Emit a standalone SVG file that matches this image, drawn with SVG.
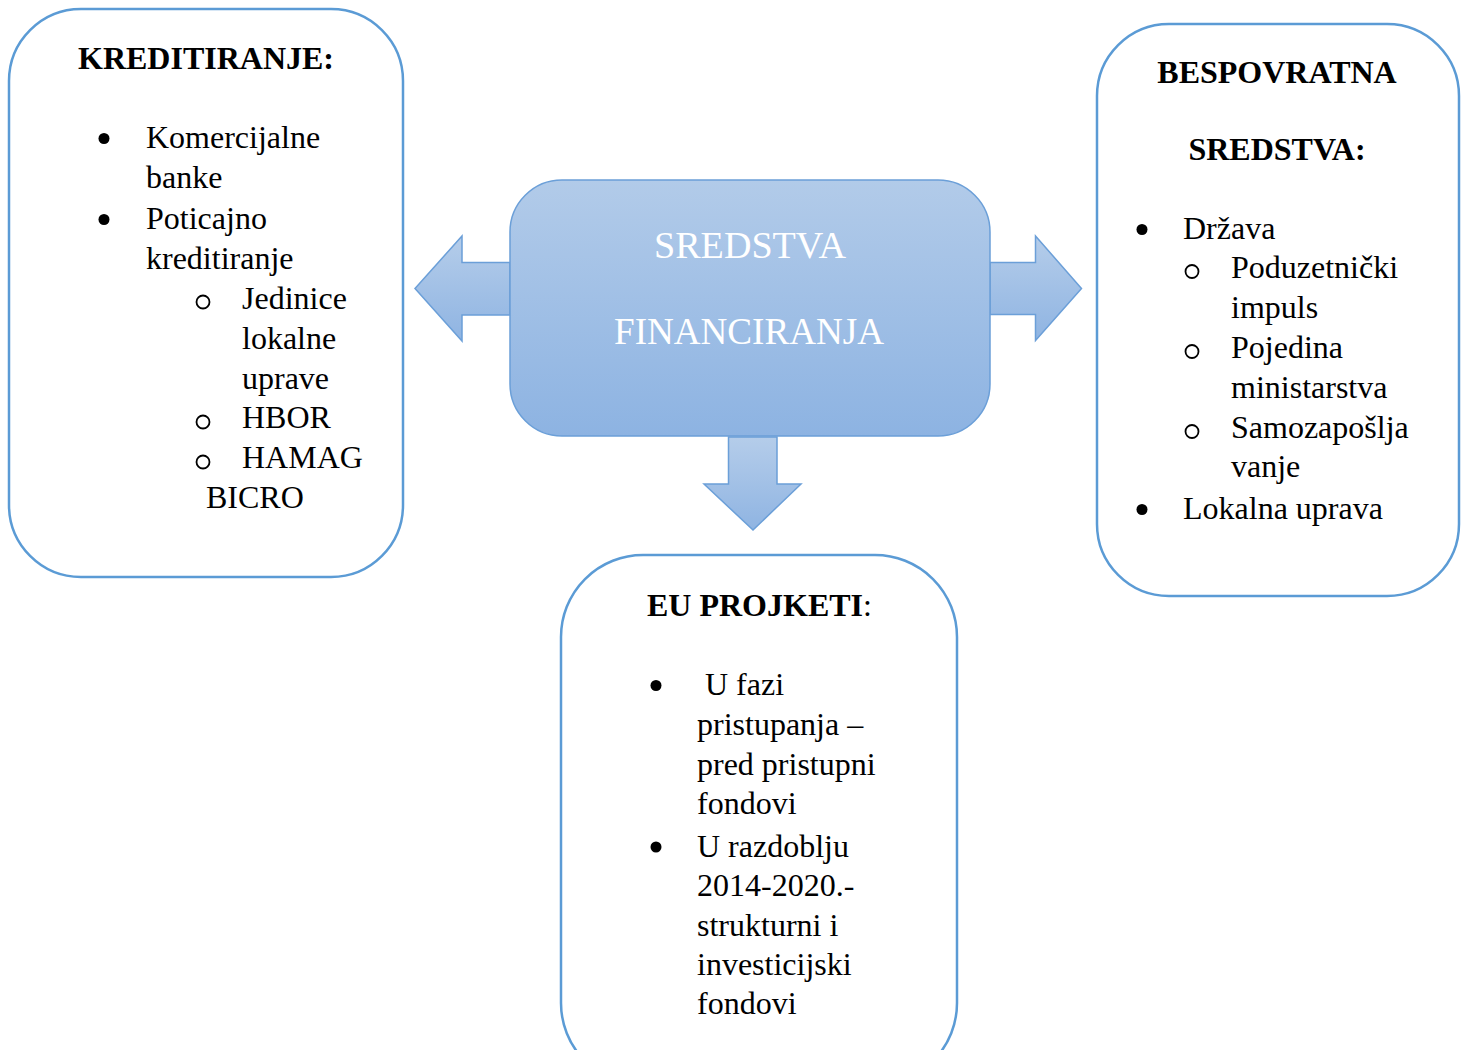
<svg xmlns="http://www.w3.org/2000/svg" width="1467" height="1050" viewBox="0 0 1467 1050">
<defs>
<linearGradient id="g" x1="0" y1="0" x2="0" y2="1">
<stop offset="0" stop-color="#b2cbe9"/>
<stop offset="1" stop-color="#8db3e2"/>
</linearGradient>
<linearGradient id="gs" x1="0" y1="0" x2="0" y2="1">
<stop offset="0" stop-color="#b5cdea"/>
<stop offset="1" stop-color="#8fb4e2"/>
</linearGradient>
<style>
.box{fill:#fff;stroke:#5b9bd5;stroke-width:2.5}
.arr{fill:url(#gs);stroke:#6b9fd8;stroke-width:1.5}
.t{font-family:"Liberation Serif","Times New Roman",serif;font-size:32px;fill:#000}
.b{font-weight:bold}
.dot{fill:#000}
.ring{fill:none;stroke:#000;stroke-width:1.8}
.c{font-family:"Liberation Serif","Times New Roman",serif;font-size:38px;fill:#fff}
</style>
</defs>
<g id="connectors">
<path class="arr" d="M510,262.5 H462 V236 L415,288.5 L462,341 V315 H510 Z"/>
<path class="arr" d="M990,262.5 H1035.5 V236 L1081.5,288.5 L1035.5,340.5 V314.5 H990 Z"/>
<path class="arr" d="M728.5,437 H777 V484 H801 L753,530 L704,484 H728.5 Z"/>
</g>
<g id="center">
<rect x="510" y="180" width="480" height="256" rx="52" ry="52" fill="url(#g)" stroke="#6b9fd8" stroke-width="1.5"/>
<text class="c" x="750" y="258" text-anchor="middle" textLength="192" lengthAdjust="spacingAndGlyphs">SREDSTVA</text>
<text class="c" x="749" y="344" text-anchor="middle" textLength="270" lengthAdjust="spacingAndGlyphs">FINANCIRANJA</text>
</g>
<g id="kreditiranje">
<rect class="box" x="9" y="9" width="394" height="568" rx="72" ry="72"/>
<text class="t b" x="206" y="69" text-anchor="middle">KREDITIRANJE:</text>
<circle class="dot" cx="104" cy="138.5" r="5.5"/>
<text class="t" x="146" y="148">Komercijalne</text>
<text class="t" x="146" y="188">banke</text>
<circle class="dot" cx="104" cy="219.5" r="5.5"/>
<text class="t" x="146" y="229">Poticajno</text>
<text class="t" x="146" y="269">kreditiranje</text>
<circle class="ring" cx="203" cy="302" r="6.5"/>
<text class="t" x="242" y="309">Jedinice</text>
<text class="t" x="242" y="349">lokalne</text>
<text class="t" x="242" y="389">uprave</text>
<circle class="ring" cx="203" cy="422" r="6.5"/>
<text class="t" x="242" y="428">HBOR</text>
<circle class="ring" cx="203" cy="462" r="6.5"/>
<text class="t" x="242" y="468">HAMAG</text>
<text class="t" x="206" y="508">BICRO</text>
</g>
<g id="bespovratna">
<rect class="box" x="1097" y="24" width="362" height="572" rx="72" ry="72"/>
<text class="t b" x="1277" y="83" text-anchor="middle">BESPOVRATNA</text>
<text class="t b" x="1277" y="160" text-anchor="middle">SREDSTVA:</text>
<circle class="dot" cx="1142" cy="229.5" r="5.5"/>
<text class="t" x="1183" y="239">Država</text>
<circle class="ring" cx="1192" cy="271.5" r="6.5"/>
<text class="t" x="1231" y="278">Poduzetnički</text>
<text class="t" x="1231" y="318">impuls</text>
<circle class="ring" cx="1192" cy="351.5" r="6.5"/>
<text class="t" x="1231" y="358">Pojedina</text>
<text class="t" x="1231" y="398">ministarstva</text>
<circle class="ring" cx="1192" cy="431.5" r="6.5"/>
<text class="t" x="1231" y="438">Samozapošlja</text>
<text class="t" x="1231" y="477">vanje</text>
<circle class="dot" cx="1142" cy="509.5" r="5.5"/>
<text class="t" x="1183" y="519">Lokalna uprava</text>
</g>
<g id="eu-projekti">
<rect class="box" x="561" y="555" width="396" height="530" rx="82" ry="82"/>
<text class="t" x="647" y="616"><tspan class="b">EU PROJKETI</tspan>:</text>
<circle class="dot" cx="656" cy="685.5" r="5.5"/>
<text class="t" x="705" y="695">U fazi</text>
<text class="t" x="697" y="735">pristupanja –</text>
<text class="t" x="697" y="775">pred pristupni</text>
<text class="t" x="697" y="814">fondovi</text>
<circle class="dot" cx="656" cy="847" r="5.5"/>
<text class="t" x="697" y="857">U razdoblju</text>
<text class="t" x="697" y="896">2014-2020.-</text>
<text class="t" x="697" y="936">strukturni i</text>
<text class="t" x="697" y="975">investicijski</text>
<text class="t" x="697" y="1014">fondovi</text>
</g>
</svg>
